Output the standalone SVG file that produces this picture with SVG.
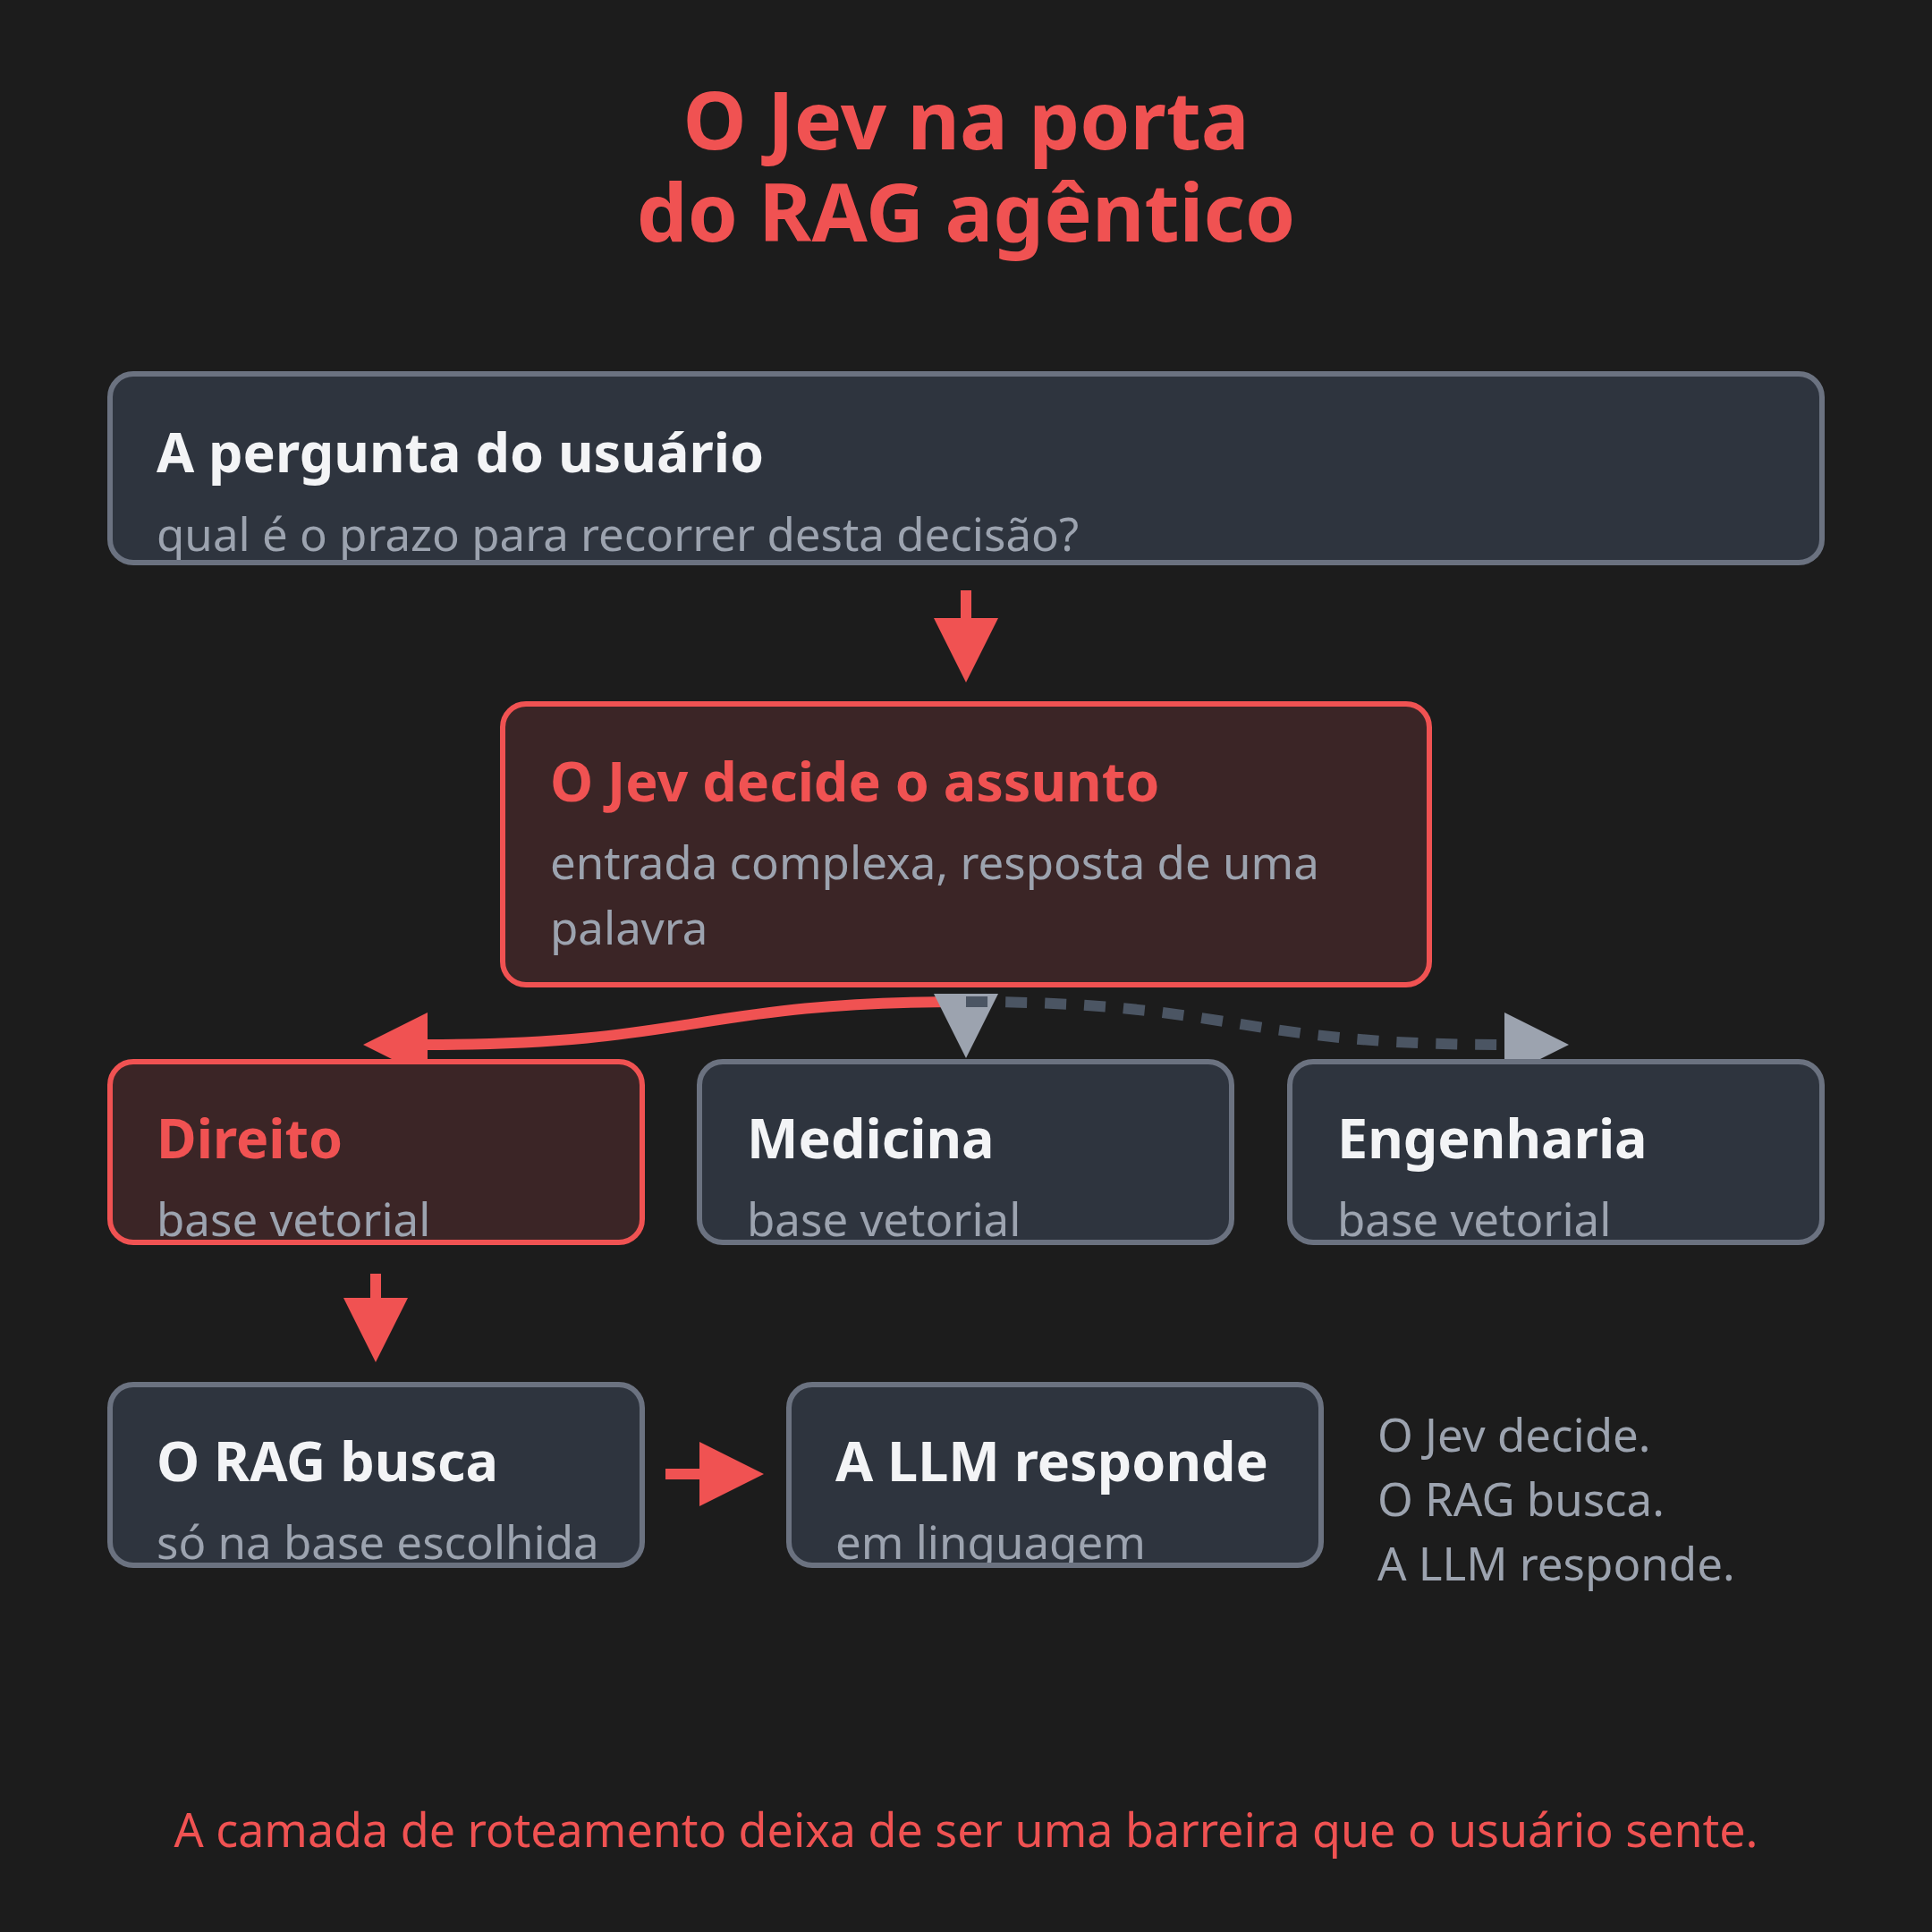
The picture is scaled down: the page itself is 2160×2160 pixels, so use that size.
<svg xmlns="http://www.w3.org/2000/svg" width="2160" height="2160" viewBox="0 0 2160 2160">
  <style>
    .box { fill: #2e343e; stroke: #6b7280; stroke-width: 6; }
    .box.hot { fill: #3b2526; stroke: #f05252; }
    .tt { font-family: "Noto Sans", "Open Sans", "Liberation Sans", sans-serif; font-weight: 700; font-size: 61px; fill: #f3f4f6; }
    .tt.hot { fill: #f05252; }
    .st { font-family: "Noto Sans", "Open Sans", "Liberation Sans", sans-serif; font-weight: 400; font-size: 51px; fill: #9ca3af; }
    .head { font-family: "Noto Sans", "Open Sans", "Liberation Sans", sans-serif; font-weight: 700; font-size: 90px; fill: #f05252; }
    .foot { font-family: "Noto Sans", "Open Sans", "Liberation Sans", sans-serif; font-weight: 400; font-size: 52px; fill: #f05252; }
    .link { fill: none; stroke-width: 12; }
    .red { stroke: #f05252; }
    .dash { stroke: #4b5563; stroke-dasharray: 24 20; }
  </style>
  <defs>
    <marker id="ahRed" markerUnits="userSpaceOnUse" markerWidth="72" markerHeight="72" viewBox="0 0 72 72" refX="0" refY="36" orient="auto">
      <path d="M0,0 L72,36 L0,72 z" fill="#f05252"/>
    </marker>
    <marker id="ahGrey" markerUnits="userSpaceOnUse" markerWidth="72" markerHeight="72" viewBox="0 0 72 72" refX="0" refY="36" orient="auto">
      <path d="M0,0 L72,36 L0,72 z" fill="#9ca3af"/>
    </marker>
    <clipPath id="c-pergunta"><rect x="126" y="421" width="1908" height="205" rx="23"/></clipPath>
    <clipPath id="c-jev"><rect x="565" y="790" width="1030" height="308" rx="23"/></clipPath>
    <clipPath id="c-direito"><rect x="126" y="1190" width="589" height="196" rx="23"/></clipPath>
    <clipPath id="c-medicina"><rect x="785" y="1190" width="589" height="196" rx="23"/></clipPath>
    <clipPath id="c-engenharia"><rect x="1445" y="1190" width="589" height="196" rx="23"/></clipPath>
    <clipPath id="c-rag"><rect x="126" y="1551" width="589" height="196" rx="23"/></clipPath>
    <clipPath id="c-llm"><rect x="885" y="1551" width="589" height="196" rx="23"/></clipPath>
  </defs>

  <rect x="0" y="0" width="2160" height="2160" fill="#1c1c1c"/>

  <g id="title">
    <text class="head" x="1080" y="167" text-anchor="middle">O Jev na porta</text>
    <text class="head" x="1080" y="270" text-anchor="middle">do RAG agêntico</text>
  </g>

  <g id="connectors">
    <path class="link red" d="M1080,660 L1080,691" marker-end="url(#ahRed)"/>
    <path class="link red" d="M1080,1120 C778,1120 778,1168 478,1168" marker-end="url(#ahRed)"/>
    <path d="M1080,1104 L1080,1111" fill="none" stroke="none" stroke-width="12" marker-end="url(#ahGrey)"/>
    <path class="link dash" d="M1080,1120 C1381,1120 1381,1168 1682,1168" marker-end="url(#ahGrey)"/>
    <path class="link red" d="M420,1424 L420,1451" marker-end="url(#ahRed)"/>
    <path class="link red" d="M744,1648 L782,1648" marker-end="url(#ahRed)"/>
  </g>

  <g id="n-pergunta">
    <rect class="box" x="123" y="418" width="1914" height="211" rx="26"/>
    <g clip-path="url(#c-pergunta)">
      <text class="tt" x="175" y="528">A pergunta do usuário</text>
      <text class="st" x="175" y="616">qual é o prazo para recorrer desta decisão?</text>
    </g>
  </g>

  <g id="n-jev">
    <rect class="box hot" x="562" y="787" width="1036" height="314" rx="26"/>
    <g clip-path="url(#c-jev)">
      <text class="tt hot" x="615" y="896">O Jev decide o assunto</text>
      <text class="st" x="615" y="983">entrada complexa, resposta de uma</text>
      <text class="st" x="615" y="1056">palavra</text>
    </g>
  </g>

  <g id="n-direito">
    <rect class="box hot" x="123" y="1187" width="595" height="202" rx="26"/>
    <g clip-path="url(#c-direito)">
      <text class="tt hot" x="175" y="1295">Direito</text>
      <text class="st" x="175" y="1382">base vetorial</text>
    </g>
  </g>

  <g id="n-medicina">
    <rect class="box" x="782" y="1187" width="595" height="202" rx="26"/>
    <g clip-path="url(#c-medicina)">
      <text class="tt" x="835" y="1295">Medicina</text>
      <text class="st" x="835" y="1382">base vetorial</text>
    </g>
  </g>

  <g id="n-engenharia">
    <rect class="box" x="1442" y="1187" width="595" height="202" rx="26"/>
    <g clip-path="url(#c-engenharia)">
      <text class="tt" x="1495" y="1295">Engenharia</text>
      <text class="st" x="1495" y="1382">base vetorial</text>
    </g>
  </g>

  <g id="n-rag">
    <rect class="box" x="123" y="1548" width="595" height="202" rx="26"/>
    <g clip-path="url(#c-rag)">
      <text class="tt" x="175" y="1656">O RAG busca</text>
      <text class="st" x="175" y="1743">só na base escolhida</text>
    </g>
  </g>

  <g id="n-llm">
    <rect class="box" x="882" y="1548" width="595" height="202" rx="26"/>
    <g clip-path="url(#c-llm)">
      <text class="tt" x="934" y="1656">A LLM responde</text>
      <text class="st" x="934" y="1743">em linguagem</text>
    </g>
  </g>

  <g id="note">
    <text class="st" x="1540" y="1623">O Jev decide.</text>
    <text class="st" x="1540" y="1695">O RAG busca.</text>
    <text class="st" x="1540" y="1767">A LLM responde.</text>
  </g>

  <g id="footer">
    <text class="foot" x="1080" y="2065" text-anchor="middle">A camada de roteamento deixa de ser uma barreira que o usuário sente.</text>
  </g>
</svg>
